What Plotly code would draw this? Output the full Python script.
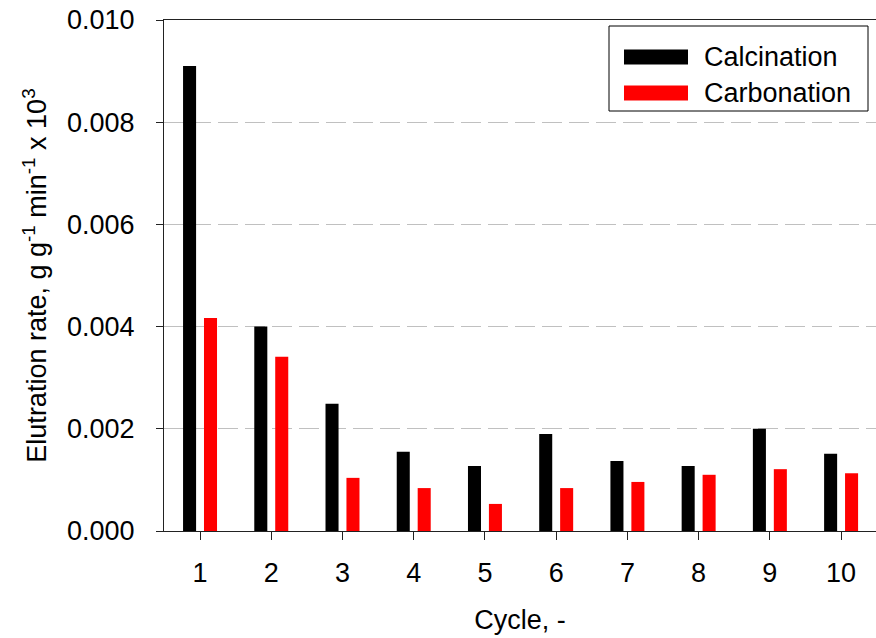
import plotly.graph_objects as go

cycles = [1, 2, 3, 4, 5, 6, 7, 8, 9, 10]
calcination = [0.00910, 0.00400, 0.00249, 0.00155, 0.00127, 0.00190, 0.00137, 0.00127, 0.00200, 0.00151]
carbonation = [0.00417, 0.00341, 0.00104, 0.00084, 0.00053, 0.00084, 0.00096, 0.00110, 0.00121, 0.00113]
y_ticks = [0.000, 0.002, 0.004, 0.006, 0.008, 0.010]
series_names = ["Calcination", "Carbonation"]
series_colors = ["#000000", "#ff0000"]

W, H = 876, 638
L, R, T, B = 164, 0, 20, 107
PW, PH = W - L - R, H - T - B

def px_x(x):
    return (x - L) / PW

def px_y(y):
    return (H - B - y) / PH

FONT = "Liberation Sans, Arial, sans-serif"
FS = 27
bar_w = 0.183
half_gap = 0.147

fig = go.Figure()
fig.add_trace(go.Bar(x=cycles, y=calcination, name=series_names[0],
                     marker=dict(color=series_colors[0], line=dict(width=0)),
                     width=bar_w, offset=-half_gap - bar_w / 2, showlegend=False))
fig.add_trace(go.Bar(x=cycles, y=carbonation, name=series_names[1],
                     marker=dict(color=series_colors[1], line=dict(width=0)),
                     width=bar_w, offset=half_gap - bar_w / 2, showlegend=False))

# legend box drawn by hand so the swatches can be wide rectangles
shapes = [dict(type="rect", xref="paper", yref="paper",
               x0=px_x(609), x1=px_x(868), y0=px_y(111), y1=px_y(26),
               line=dict(color="black", width=1), fillcolor="white", layer="above")]
annotations = []
for i, (name, col) in enumerate(zip(series_names, series_colors)):
    yc = 57 + 36 * i
    shapes.append(dict(type="rect", xref="paper", yref="paper",
                       x0=px_x(624), x1=px_x(688), y0=px_y(yc + 7.5), y1=px_y(yc - 7.5),
                       line=dict(width=0), fillcolor=col, layer="above"))
    annotations.append(dict(text=name, xref="paper", yref="paper",
                            x=px_x(702), y=px_y(yc), xanchor="left", yanchor="middle",
                            showarrow=False, font=dict(family=FONT, size=FS, color="black")))

fig.update_layout(
    width=W, height=H,
    margin=dict(l=L, r=R, t=T, b=B),
    plot_bgcolor="white", paper_bgcolor="white",
    barmode="overlay",
    font=dict(family=FONT, size=FS, color="black"),
    shapes=shapes, annotations=annotations,
    xaxis=dict(range=[0.494, 10.49], tickmode="array", tickvals=cycles,
               ticktext=[str(c) for c in cycles],
               showline=True, linecolor="#222222", linewidth=1, mirror=True,
               ticks="outside", ticklen=8, tickcolor="#222222", showgrid=False,
               zeroline=False, ticklabelstandoff=10,
               title=dict(text="Cycle, -", standoff=22, font=dict(size=FS))),
    yaxis=dict(range=[0, 0.010], tickmode="array", tickvals=y_ticks,
               ticktext=[f"{v:.3f}" for v in y_ticks],
               showline=True, linecolor="#222222", linewidth=1,
               ticks="outside", ticklen=7, tickcolor="#222222",
               showgrid=True, gridcolor="#c0c0c0", griddash="20px,7px", gridwidth=1,
               zeroline=False, ticklabelstandoff=16,
               title=dict(text="Elutration rate, g g<sup>-1</sup> min<sup>-1</sup> x 10<sup>3</sup>",
                          standoff=12, font=dict(size=FS))),
)

fig.write_html("out.html")
